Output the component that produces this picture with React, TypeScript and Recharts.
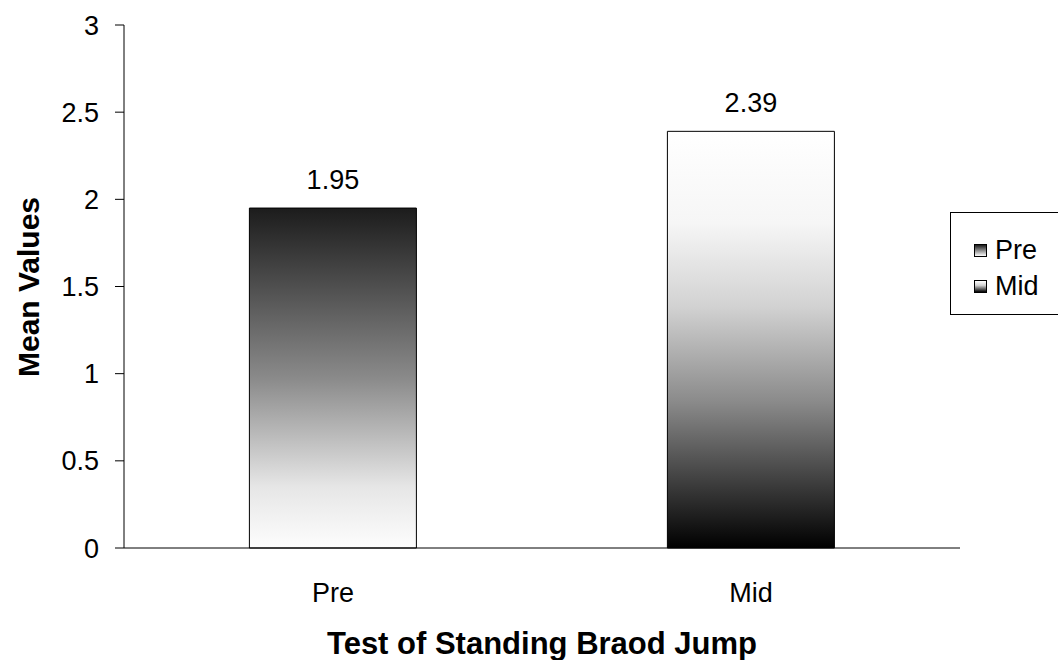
import { BarChart, Bar, XAxis, YAxis, Cell, LabelList } from "recharts"

const categories = ["Pre", "Mid"]
const meanValues = [1.95, 2.39]
const yTicks = [0, 0.5, 1, 1.5, 2, 2.5, 3]
const edgeTicks = [0, 1, 2]

const data = categories.map((name, i) => ({ name, value: meanValues[i] }))

const font = "'Liberation Sans', Arial, sans-serif"
const gradientIds = ["gradPre", "gradMid"]
const legendIcons = [
  "linear-gradient(#1a1a1a, #8c8c8c 50%, #fcfcfc)",
  "linear-gradient(#ffffff, #d0d0d0 40%, #000000)",
]

// legend drawn outside the chart so it doesn't shrink the plot area
const LegendBox = () => (
  <div
    style={{
      position: "absolute",
      left: 950,
      top: 212,
      border: "1px solid #000",
      background: "#fff",
      width: 120,
      height: 103,
      boxSizing: "border-box",
      paddingTop: 19,
      paddingLeft: 23,
      fontFamily: font,
      fontSize: 27,
    }}
  >
    {categories.map((c, i) => (
      <div key={c} style={{ display: "flex", alignItems: "center", height: 36 }}>
        <span
          style={{
            width: 11,
            height: 11,
            border: "1px solid #000",
            background: legendIcons[i],
            marginRight: 8,
            display: "inline-block",
          }}
        />
        <span>{c}</span>
      </div>
    ))}
  </div>
)

const App = () => {
  return (
    <div
      style={{
        position: "absolute",
        left: 0,
        top: 0,
        width: 1058,
        height: 660,
        overflow: "hidden",
        background: "#fff",
      }}
    >
      <BarChart
        width={1058}
        height={660}
        data={data}
        margin={{ top: 25, right: 98, left: 0, bottom: 0 }}
        barCategoryGap="30%"
      >
        <defs>
          <linearGradient id="gradPre" x1="0" y1="0" x2="0" y2="1">
            <stop offset="0%" stopColor="#1c1c1c" />
            <stop offset="50%" stopColor="#8a8a8a" />
            <stop offset="82%" stopColor="#e6e6e6" />
            <stop offset="100%" stopColor="#fdfdfd" />
          </linearGradient>
          <linearGradient id="gradMid" x1="0" y1="0" x2="0" y2="1">
            <stop offset="0%" stopColor="#ffffff" />
            <stop offset="22%" stopColor="#f6f6f6" />
            <stop offset="42%" stopColor="#d2d2d2" />
            <stop offset="65%" stopColor="#8a8a8a" />
            <stop offset="100%" stopColor="#000000" />
          </linearGradient>
        </defs>
        <XAxis
          xAxisId="edge"
          type="number"
          domain={[0, 2]}
          ticks={edgeTicks}
          height={0}
          axisLine={false}
          tickSize={9}
          tickLine={{ stroke: "#000" }}
          tickFormatter={() => ""}
        />
        <XAxis
          dataKey="name"
          height={112}
          axisLine={{ stroke: "#000" }}
          tickLine={false}
          tickSize={9}
          tickMargin={26}
          fontSize={27}
          tick={{ fill: "#000", fontSize: 27, fontFamily: font }}
          label={{
            value: "Test of Standing Braod Jump",
            position: "insideBottom",
            offset: 6,
            fill: "#000",
            fontSize: 31,
            fontWeight: "bold",
            fontFamily: font,
          }}
        />
        <YAxis
          width={124}
          domain={[0, 3]}
          ticks={yTicks}
          interval={0}
          axisLine={{ stroke: "#000" }}
          tickLine={{ stroke: "#000" }}
          tickSize={9}
          tickMargin={16}
          fontSize={27}
          tick={{ fill: "#000", fontSize: 27, fontFamily: font }}
          label={{
            content: () => (
              <text
                x={28}
                y={287}
                transform="rotate(-90, 28, 287)"
                textAnchor="middle"
                dominantBaseline="central"
                fill="#000"
                fontSize={30}
                fontWeight="bold"
                fontFamily={font}
              >
                Mean Values
              </text>
            ),
          }}
        />
        <Bar dataKey="value" stroke="#000" strokeWidth={1} isAnimationActive={false}>
          {data.map((d, i) => (
            <Cell key={d.name} fill={`url(#${gradientIds[i]})`} />
          ))}
          <LabelList
            dataKey="value"
            position="top"
            offset={19}
            fill="#000"
            fontSize={27}
            fontFamily={font}
          />
        </Bar>
      </BarChart>
      <LegendBox />
    </div>
  )
}

export default App
